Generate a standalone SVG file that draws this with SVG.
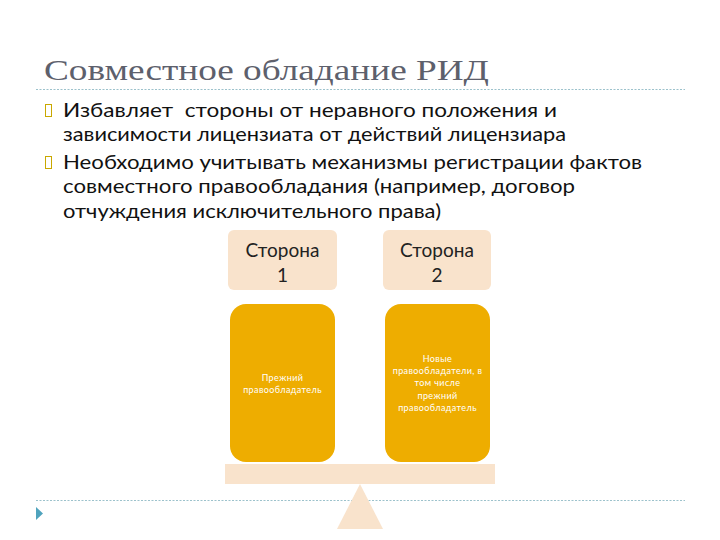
<svg xmlns="http://www.w3.org/2000/svg" width="720" height="540" viewBox="0 0 720 540">
<style>
.title{font-family:"Liberation Serif","DejaVu Serif",serif;font-size:30px;fill:#5d606c}
.body{font-family:Lato,"Open Sans",sans-serif;font-size:20px;fill:#111;white-space:pre}
.side{font-family:Lato,"Open Sans",sans-serif;font-size:19px;fill:#222;text-anchor:middle}
.inner{font-family:Lato,"Open Sans",sans-serif;font-size:9px;fill:#fff;text-anchor:middle;letter-spacing:0.4px}
.rule{stroke:#9cc2cc;stroke-width:1.2;stroke-dasharray:2 1.5;fill:none}
.bul{fill:none;stroke:#c9a800;stroke-width:1}
.peach{fill:#f9e3cc}
.gold{fill:#eead00}
</style>
<rect width="720" height="540" fill="#fff"/>
<text class="title" x="44" y="80" textLength="445" lengthAdjust="spacingAndGlyphs">Совместное обладание РИД</text>
<line class="rule" x1="36" y1="89.5" x2="685" y2="89.5"/>
<rect class="bul" x="45.5" y="104.5" width="6" height="12"/>
<rect class="bul" x="45.5" y="156.5" width="6" height="12"/>
<text class="body" x="63" y="117" textLength="494" lengthAdjust="spacingAndGlyphs" xml:space="preserve">Избавляет  стороны от неравного положения и</text>
<text class="body" x="63" y="141" textLength="503" lengthAdjust="spacingAndGlyphs">зависимости лицензиата от действий лицензиара</text>
<text class="body" x="63" y="169" textLength="579" lengthAdjust="spacingAndGlyphs">Необходимо учитывать механизмы регистрации фактов</text>
<text class="body" x="63" y="193" textLength="512" lengthAdjust="spacingAndGlyphs">совместного правообладания (например, договор</text>
<text class="body" x="63" y="218" textLength="378" lengthAdjust="spacingAndGlyphs">отчуждения исключительного права)</text>
<g id="side1">
<rect class="peach" x="228" y="230" width="109" height="60" rx="6"/>
<text class="side" x="282.5" y="257">Сторона</text>
<text class="side" x="282.5" y="282">1</text>
</g>
<g id="side2">
<rect class="peach" x="383" y="230" width="108" height="60" rx="6"/>
<text class="side" x="437" y="257">Сторона</text>
<text class="side" x="437" y="282">2</text>
</g>
<g id="holder1">
<rect class="gold" x="230" y="304" width="105" height="158" rx="16"/>
<text class="inner" x="282.5" y="381">Прежний</text>
<text class="inner" x="282.5" y="393">правообладатель</text>
</g>
<g id="holder2">
<rect class="gold" x="385" y="304" width="105" height="158" rx="16"/>
<text class="inner" x="437.5" y="362">Новые</text>
<text class="inner" x="437.5" y="374">правообладатели, в</text>
<text class="inner" x="437.5" y="386">том числе</text>
<text class="inner" x="437.5" y="399">прежний</text>
<text class="inner" x="437.5" y="411">правообладатель</text>
</g>
<line class="rule" x1="36" y1="500.5" x2="685" y2="500.5"/>
<g id="scale">
<rect class="peach" x="225" y="464" width="270" height="20"/>
<polygon class="peach" points="360,484 383,529 337,529"/>
</g>
<polygon points="36,507 43,513.5 36,520" fill="#4fa3bd"/>
</svg>
